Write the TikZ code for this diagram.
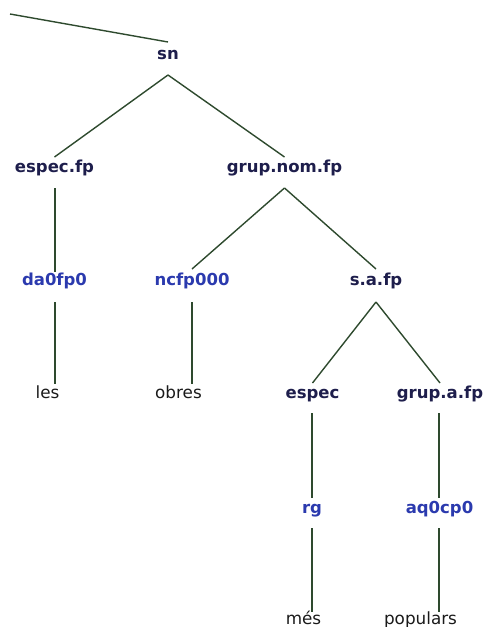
\documentclass[tikz,border=0pt]{standalone}
\usepackage{fontspec}
\setmainfont{DejaVu Sans}
\definecolor{ntcol}{HTML}{1E1E4C}
\definecolor{poscol}{HTML}{2B3AAE}
\definecolor{wcol}{HTML}{1A1A1A}
\definecolor{edgecol}{HTML}{2E4A2E}
\tikzset{
  nt/.style={anchor=base, inner sep=0pt, text=ntcol, font=\bfseries\fontsize{16.5}{18}\selectfont},
  postag/.style={anchor=base, inner sep=0pt, text=poscol, font=\bfseries\fontsize{16.5}{18}\selectfont},
  word/.style={anchor=base, inner sep=0pt, text=wcol, font=\fontsize{16.8}{18}\selectfont},
  edge/.style={draw=edgecol, line width=1.4pt}
}
\begin{document}
\begin{tikzpicture}[x=1pt,y=-1pt]
\useasboundingbox (0,0) rectangle (486,627);
% nodes
\node[nt] (sn) at (168,59) {sn};
\node[nt] (especfp) at (54.5,172.5) {espec.fp};
\node[nt] (grupnom) at (284.5,172.5) {grup.nom.fp};
\node[postag] (da) at (54.5,285) {da0fp0};
\node[postag] (nc) at (192,285) {ncfp000};
\node[nt] (saf) at (376,285) {s.a.fp};
\node[word] (les) at (47.5,398) {les};
\node[word] (obres) at (178.5,398) {obres};
\node[nt] (espec) at (312.5,398) {espec};
\node[nt] (grupa) at (440,398) {grup.a.fp};
\node[postag] (rg) at (312,513) {rg};
\node[postag] (aq) at (439.5,513) {aq0cp0};
\node[word] (mes) at (303.5,624) {més};
\node[word] (pop) at (420.5,624) {populars};
\coordinate (top) at (10,14);
% edges
\draw[edge] (top) -- ([yshift=17pt]sn.base);
\draw[edge] ([yshift=-16pt]sn.base) -- ([yshift=15.5pt]especfp.base);
\draw[edge] ([yshift=-16pt]sn.base) -- ([yshift=15.5pt]grupnom.base);
\draw[edge] ([xshift=0.5pt,yshift=-15.5pt]especfp.base) -- ([xshift=0.5pt,yshift=13.5pt]da.base);
\draw[edge] ([yshift=-15.5pt]grupnom.base) -- ([yshift=16pt]nc.base);
\draw[edge] ([yshift=-15.5pt]grupnom.base) -- ([yshift=16pt]saf.base);
\draw[edge] ([xshift=0.5pt,yshift=-17pt]da.base) -- ([xshift=0.5pt,yshift=14pt]da.base |- les.base);
\draw[edge] ([yshift=-17pt]nc.base) -- ([yshift=14pt]nc.base |- obres.base);
\draw[edge] ([yshift=-17pt]saf.base) -- ([yshift=15pt]espec.base);
\draw[edge] ([yshift=-17pt]saf.base) -- ([yshift=15pt]grupa.base);
\draw[edge] ([xshift=-0.5pt,yshift=-15pt]espec.base) -- ([xshift=-0.5pt,yshift=15pt]espec.base |- rg.base);
\draw[edge] ([xshift=-1pt,yshift=-15pt]grupa.base) -- ([xshift=-1pt,yshift=15pt]grupa.base |- aq.base);
\draw[edge] ([yshift=-15pt]rg.base) -- ([yshift=12pt]rg.base |- mes.base);
\draw[edge] ([xshift=-0.5pt,yshift=-15pt]aq.base) -- ([xshift=-0.5pt,yshift=12pt]aq.base |- pop.base);
\end{tikzpicture}
\end{document}
